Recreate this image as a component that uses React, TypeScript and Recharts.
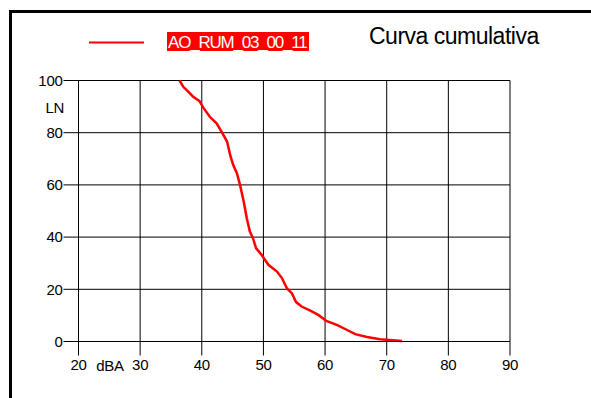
import React from 'react';
import { LineChart, Line, XAxis, YAxis, CartesianGrid, Legend, Label } from 'recharts';

const seriesName = 'AO_RUM_03_00_11';
const chartTitle = 'Curva cumulativa';
const xAxisUnit = 'dBA';
const yAxisUnit = 'LN';

const levels = [
  36.4, 37.0, 37.8, 38.6, 39.6, 40.3, 41.3, 42.4, 43.2, 44.1, 44.6, 45.1, 45.7, 46.2, 46.8,
  47.3, 47.8, 48.3, 48.8, 49.7, 50.8, 52.2, 53.0, 53.8, 54.6, 55.3, 56.2, 57.6, 58.9, 60.2,
  61.9, 63.5, 64.9, 66.8, 68.9, 72.5,
];
const percents = [
  100, 97.6, 95.7, 93.8, 92.2, 89.4, 86.1, 83.6, 80.4, 76.6, 71.5, 67.6, 64.5, 60.0, 53.6,
  47.2, 42.1, 39.6, 35.8, 33.2, 29.4, 26.8, 24.3, 20.4, 18.5, 15.1, 13.4, 11.8, 10.2, 7.9,
  6.4, 4.5, 2.8, 1.7, 0.9, 0.2,
];
const xTicks = [20, 30, 40, 50, 60, 70, 80, 90];
const yTicks = [0, 20, 40, 60, 80, 100];

const data = levels.map((x, i) => ({ x, y: percents[i] }));

const FONT = 'Arial, "Liberation Sans", sans-serif';

const LegendContent = () => (
  <svg width={591} height={60} style={{ display: 'block' }}>
    <line x1={89} y1={42.5} x2={144} y2={42.5} stroke="#ff0000" strokeWidth={2} />
    <rect x={167} y={32} width={142} height={19} fill="#ff0000" />
    <text x={168} y={47.5} fill="#ffffff" fontSize={17} fontFamily={FONT} letterSpacing={-1.2}>
      {seriesName}
    </text>
    <text x={369} y={44.3} fill="#000" fontSize={23} fontFamily={FONT} letterSpacing={-0.5}>
      {chartTitle}
    </text>
  </svg>
);

export default function App() {
  const tickStyle = { fill: '#000', fontSize: 15, fontFamily: FONT, letterSpacing: -0.3 };
  return (
    <div style={{ position: 'absolute', left: 0, top: 0, width: 591, height: 398, overflow: 'hidden', background: '#fff' }}>
      <div
        style={{
          position: 'absolute',
          left: 9,
          top: 10,
          width: 700,
          height: 500,
          borderTop: '3px solid #000',
          borderLeft: '3px solid #000',
          boxSizing: 'border-box',
        }}
      />
      <div style={{ position: 'absolute', left: 0, top: 0 }}>
        <LineChart width={591} height={398} data={data} margin={{ top: 80.5, right: 81, left: 0, bottom: 0 }}>
          <CartesianGrid stroke="#000" strokeWidth={1} />
          <XAxis
            dataKey="x"
            type="number"
            domain={[20, 90]}
            ticks={xTicks}
            height={56.5}
            tickSize={14}
            tickMargin={4}
            axisLine={{ stroke: '#000' }}
            tickLine={{ stroke: '#000' }}
            tick={tickStyle}
            interval={0}
          >
            <Label
              content={(props: any) => {
                const vb = props.viewBox || { x: 78.5, y: 341.5 };
                return (
                  <text x={vb.x + 31.5} y={vb.y + 29} textAnchor="middle" fill="#000" fontSize={15} fontFamily={FONT} letterSpacing={-0.3}>
                    {xAxisUnit}
                  </text>
                );
              }}
            />
          </XAxis>
          <YAxis
            type="number"
            domain={[0, 100]}
            ticks={yTicks}
            width={78.5}
            tickSize={15}
            tickMargin={1}
            axisLine={{ stroke: '#000' }}
            tickLine={{ stroke: '#000' }}
            tick={tickStyle}
            interval={0}
          >
            <Label
              content={(props: any) => {
                const vb = props.viewBox || { x: 0, y: 80.5, width: 78.5 };
                return (
                  <text x={vb.x + vb.width - 14.5} y={vb.y + 32.5} textAnchor="end" fill="#000" fontSize={15} fontFamily={FONT} letterSpacing={-0.3}>
                    {yAxisUnit}
                  </text>
                );
              }}
            />
          </YAxis>
          <Legend
            layout="horizontal"
            verticalAlign="middle"
            align="center"
            wrapperStyle={{ position: 'absolute', top: 0, left: 0, width: 591, height: 60 }}
            content={() => <LegendContent />}
          />
          <Line
            type="linear"
            dataKey="y"
            name={seriesName}
            stroke="#ff0000"
            strokeWidth={2.5}
            dot={false}
            isAnimationActive={false}
          />
        </LineChart>
      </div>
    </div>
  );
}
